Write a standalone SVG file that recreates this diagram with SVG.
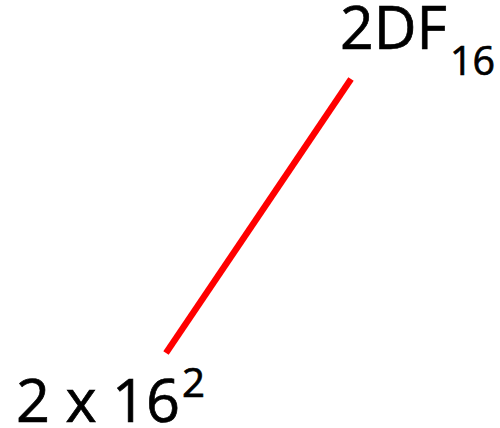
<svg xmlns="http://www.w3.org/2000/svg" width="500" height="428" viewBox="0 0 500 428">
<style>
text{font-family:"Open Sans","Noto Sans","Liberation Sans",sans-serif;fill:#000;stroke:#000;stroke-width:0.7}
.big{font-size:61px}
.small{font-size:40px}
.conn{stroke:#ff0000;stroke-width:6.5;fill:none;stroke-linecap:butt}
</style>
<rect width="500" height="428" fill="#fff"/>
<g id="connectors">
<line class="conn" x1="351" y1="79" x2="166" y2="353"/>
</g>
<g id="top-label">
<text class="big" x="340" y="49" textLength="107" lengthAdjust="spacingAndGlyphs">2DF</text>
<text class="small" x="450" y="75" textLength="45" lengthAdjust="spacingAndGlyphs">16</text>
</g>
<g id="bottom-label">
<text class="big" x="16" y="422" textLength="164" lengthAdjust="spacingAndGlyphs">2 x 16</text>
<text class="small" x="182" y="397" textLength="23" lengthAdjust="spacingAndGlyphs">2</text>
</g>
</svg>
